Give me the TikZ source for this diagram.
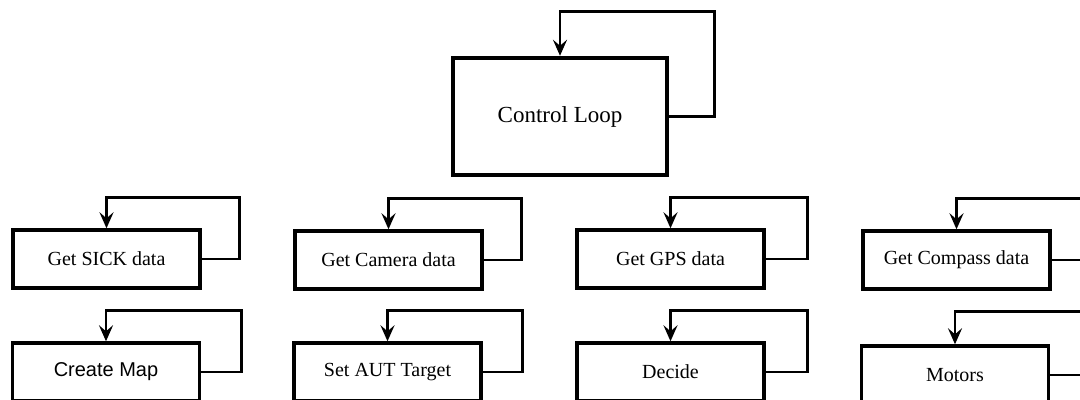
\documentclass[tikz,border=0pt]{standalone}
\usepackage{fontspec}
\setmainfont{Liberation Serif}
\newfontfamily\mapfont{Liberation Sans}
\usetikzlibrary{arrows.meta}

\begin{document}
\begin{tikzpicture}[x=0.5pt, y=-0.5pt,
	block/.style = {draw, line width=2.2pt, minimum width=107pt, minimum height=58.5pt, font=\fontsize{11.5}{14}\selectfont},
	task/.style = {draw, line width=1.7pt, minimum width=93.5pt, minimum height=29pt, font=\fontsize{10}{12}\selectfont},
	fb/.style = {line width=1.3pt, -{Stealth[length=8pt,width=7pt,inset=3pt]}}]
					\useasboundingbox (0,0) rectangle (1080,400);
					\clip (0,0) rectangle (1080,400);
					\node[block] (ctrl) at (560,116.5) {Control Loop};
					\node[task] (sick) at (106.5,259) {Get SICK data}; % row 1
					\node[task] (cam) at (388.5,260) {Get Camera data};
					\node[task] (gps) at (670.5,259) {Get GPS data};
					\node[task] (comp) at (956.5,260) {Get Compass data};
					\node[task] (map) at (106,372) {\mapfont Create Map}; % row 2
					\node[task] (aut) at (387.5,372) {Set AUT Target};
					\node[task] (dec) at (670.5,372) {Decide};
					\node[task] (mot) at (955,375) {Motors};
					\draw[fb] (ctrl.east) -| ([shift={(45,-44)}]ctrl.north east) -| (ctrl.north);
					\draw[fb] (sick.east) -| ([shift={(38,-31)}]sick.north east) -| (sick.north);
					\draw[fb] (cam.east) -| ([shift={(38,-31)}]cam.north east) -| (cam.north);
					\draw[fb] (gps.east) -| ([shift={(42,-31)}]gps.north east) -| (gps.north);
					\draw[fb] (comp.east) -| ([shift={(40,-31)}]comp.north east) -| (comp.north);
					\draw[fb] (map.east) -| ([shift={(40,-31)}]map.north east) -| (map.north);
					\draw[fb] (aut.east) -| ([shift={(40,-31)}]aut.north east) -| (aut.north);
					\draw[fb] (dec.east) -| ([shift={(42,-31)}]dec.north east) -| (dec.north);
					\draw[fb] (mot.east) -| ([shift={(40,-33)}]mot.north east) -| (mot.north);
\end{tikzpicture}
\end{document}
